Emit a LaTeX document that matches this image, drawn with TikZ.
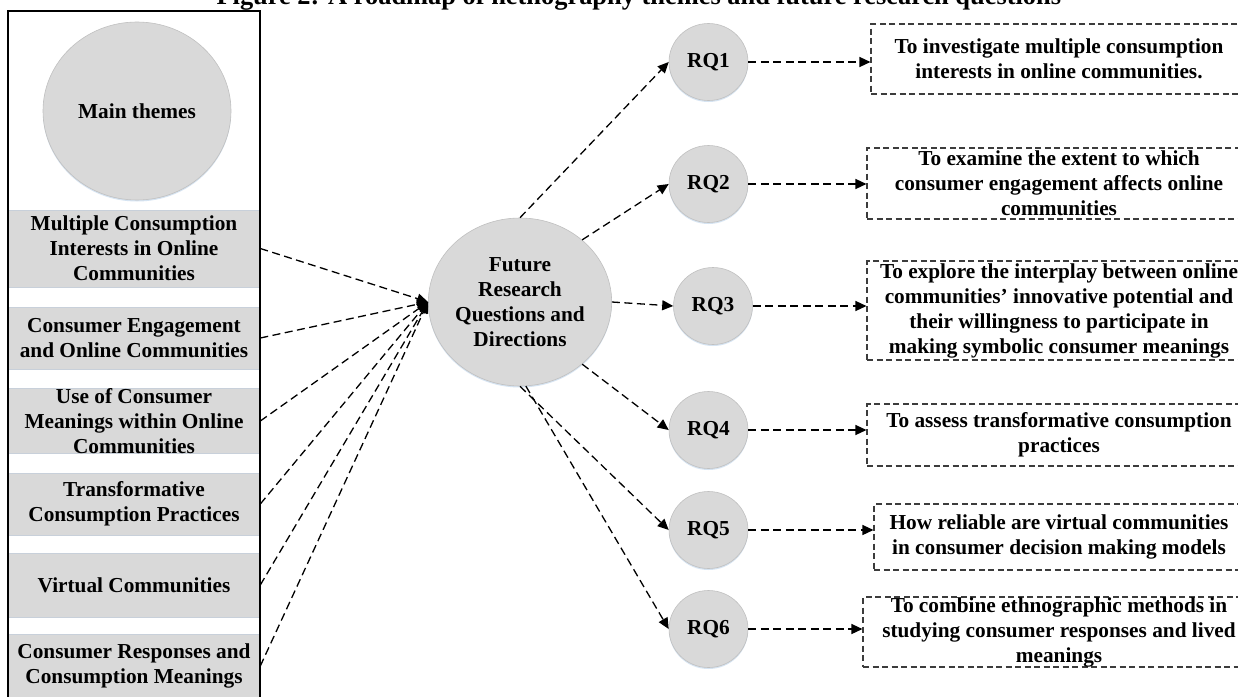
\documentclass[tikz,border=0pt]{standalone}
\usepackage{fontspec}
\setmainfont{Liberation Serif}
\usetikzlibrary{arrows.meta,shapes.geometric,shadows}
\definecolor{bubblegray}{RGB}{217,217,217}
\definecolor{bubbleedge}{RGB}{192,192,192}
\definecolor{bandedge}{RGB}{200,208,218}
\definecolor{boxedge}{RGB}{60,60,60}
\definecolor{glow}{RGB}{214,228,242}
\begin{document}
\begin{tikzpicture}[x=1pt,y=-1pt,
  every node/.style={font=\fontsize{21.3}{25}\selectfont\bfseries},
  outerbox/.style={draw=black,line width=1.4pt},
  band/.style={fill=bubblegray,draw=bandedge,line width=0.6pt,minimum width=252pt,inner sep=0pt,align=center},
  bubble/.style={ellipse,fill=bubblegray,draw=bubbleedge,line width=0.6pt,inner sep=0pt,align=center,
    drop shadow={shadow xshift=0pt,shadow yshift=-1.5pt,fill=glow,opacity=1}},
  conn/.style={draw=black,line width=1.3pt,dash pattern=on 8pt off 4.5pt,-{Triangle[length=11pt,width=10pt]}},
  rqbox/.style={draw=boxedge,dash pattern=on 6pt off 3.5pt,line width=1.1pt,inner sep=0pt,align=center}
]
\useasboundingbox (0,0) rectangle (1238,696);
\clip (0,0) rectangle (1238,696);
\fill[white] (0,0) rectangle (1238,696);

% title (cut off at the top edge)
\node[anchor=base west,font=\fontsize{26.4}{30}\selectfont\bfseries] (title) at (213,5) {Figure 2: A roadmap of netnography themes and future research questions};

% left panel
\draw[outerbox] (8,11) rectangle (260,702);
\node[bubble,minimum width=188pt,minimum height=178pt] (main) at (137,111) {Main themes};
\node[band,minimum height=77pt] (b1) at (134,248.5) {Multiple Consumption\\Interests in Online\\Communities};
\node[band,minimum height=62pt] (b2) at (134,338) {Consumer Engagement\\and Online Communities};
\node[band,minimum height=64pt] (b3) at (134,421) {Use of Consumer\\Meanings within Online\\Communities};
\node[band,minimum height=62pt] (b4) at (134,504) {Transformative\\Consumption Practices};
\node[band,minimum height=64pt] (b5) at (134,585) {Virtual Communities};
\node[band,minimum height=64pt] (b6) at (134,666) {Consumer Responses and\\Consumption Meanings};
\draw[outerbox] (8,11) rectangle (260,702);

% central circle
\node[bubble,minimum width=175pt,minimum height=168pt] (F) at (520,302) {Future\\Research\\Questions and\\Directions};

% research questions
\node[bubble,minimum width=79pt,minimum height=77pt] (rq1) at (708.5,62) {RQ1};
\node[bubble,minimum width=79pt,minimum height=77pt] (rq2) at (708.5,184) {RQ2};
\node[bubble,minimum width=79pt,minimum height=77pt] (rq3) at (713,306) {RQ3};
\node[bubble,minimum width=79pt,minimum height=77pt] (rq4) at (708.5,430) {RQ4};
\node[bubble,minimum width=79pt,minimum height=77pt] (rq5) at (708.5,530) {RQ5};
\node[bubble,minimum width=79pt,minimum height=77pt] (rq6) at (708.5,629) {RQ6};

% dashed text boxes
\node[rqbox,minimum width=376pt,minimum height=70pt] (bx1) at (1059,59) {To investigate multiple consumption\\interests in online communities.};
\node[rqbox,minimum width=384pt,minimum height=71pt] (bx2) at (1059,183.5) {To examine the extent to which\\consumer engagement affects online\\communities};
\node[rqbox,minimum width=384pt,minimum height=99pt] (bx3) at (1059,310.5) {To explore the interplay between online\\communities' innovative potential and\\their willingness to participate in\\making symbolic consumer meanings};
\node[rqbox,minimum width=384pt,minimum height=62pt] (bx4) at (1059,435) {To assess transformative consumption\\practices};
\node[rqbox,minimum width=370pt,minimum height=66pt] (bx5) at (1059,537) {How reliable are virtual communities\\in consumer decision making models};
\node[rqbox,minimum width=392pt,minimum height=70pt] (bx6) at (1059,632) {To combine ethnographic methods in\\studying consumer responses and lived\\meanings};

% themes -> central circle
\draw[conn] (b1.east) -- (F.west);
\draw[conn] (b2.east) -- (F.west);
\draw[conn] (b3.east) -- (F.west);
\draw[conn] (b4.east) -- (F.west);
\draw[conn] (b5.east) -- (F.west);
\draw[conn] (b6.east) -- (F.west);

% central circle -> RQs
\draw[conn] (F.north) -- (rq1.west);
\draw[conn] (F.45) -- (rq2.west);
\draw[conn] (F.east) -- (rq3.west);
\draw[conn] (F.-45) -- (rq4.west);
\draw[conn] (F.-90) -- (rq5.west);
\draw[conn] (F.-86) -- (rq6.west);

% RQs -> boxes
\draw[conn] (rq1.east) -- (rq1.east -| bx1.west);
\draw[conn] (rq2.east) -- (rq2.east -| bx2.west);
\draw[conn] (rq3.east) -- (rq3.east -| bx3.west);
\draw[conn] (rq4.east) -- (rq4.east -| bx4.west);
\draw[conn] (rq5.east) -- (rq5.east -| bx5.west);
\draw[conn] (rq6.east) -- (rq6.east -| bx6.west);
\end{tikzpicture}
\end{document}
